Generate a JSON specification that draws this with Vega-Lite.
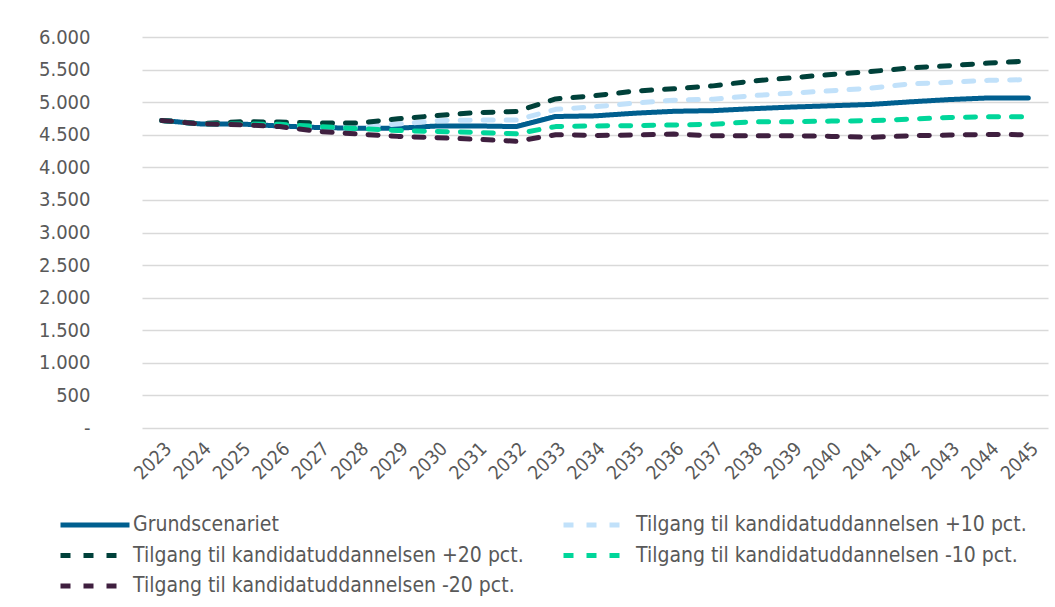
{
  "$schema": "https://vega.github.io/schema/vega-lite/v6.json",
  "width": 906,
  "height": 391,
  "autosize": {"type": "none"},
  "padding": {"left": 142, "top": 37, "right": 7, "bottom": 179},
  "background": "white",
  "config": {
    "view": {"stroke": null},
    "font": "DejaVu Sans Condensed",
    "axis": {"labelFont": "DejaVu Sans Condensed", "labelColor": "#595959"}
  },
  "data": {"values": [
    {"year":"2023","series":"Grundscenariet","value":4720},
    {"year":"2024","series":"Grundscenariet","value":4665},
    {"year":"2025","series":"Grundscenariet","value":4665},
    {"year":"2026","series":"Grundscenariet","value":4635},
    {"year":"2027","series":"Grundscenariet","value":4610},
    {"year":"2028","series":"Grundscenariet","value":4600},
    {"year":"2029","series":"Grundscenariet","value":4600},
    {"year":"2030","series":"Grundscenariet","value":4635},
    {"year":"2031","series":"Grundscenariet","value":4635},
    {"year":"2032","series":"Grundscenariet","value":4625},
    {"year":"2033","series":"Grundscenariet","value":4780},
    {"year":"2034","series":"Grundscenariet","value":4790},
    {"year":"2035","series":"Grundscenariet","value":4830},
    {"year":"2036","series":"Grundscenariet","value":4860},
    {"year":"2037","series":"Grundscenariet","value":4870},
    {"year":"2038","series":"Grundscenariet","value":4900},
    {"year":"2039","series":"Grundscenariet","value":4925},
    {"year":"2040","series":"Grundscenariet","value":4945},
    {"year":"2041","series":"Grundscenariet","value":4965},
    {"year":"2042","series":"Grundscenariet","value":5005},
    {"year":"2043","series":"Grundscenariet","value":5040},
    {"year":"2044","series":"Grundscenariet","value":5065},
    {"year":"2045","series":"Grundscenariet","value":5065},

    {"year":"2023","series":"Tilgang til kandidatuddannelsen +10 pct.","value":4720},
    {"year":"2024","series":"Tilgang til kandidatuddannelsen +10 pct.","value":4665},
    {"year":"2025","series":"Tilgang til kandidatuddannelsen +10 pct.","value":4670},
    {"year":"2026","series":"Tilgang til kandidatuddannelsen +10 pct.","value":4640},
    {"year":"2027","series":"Tilgang til kandidatuddannelsen +10 pct.","value":4615},
    {"year":"2028","series":"Tilgang til kandidatuddannelsen +10 pct.","value":4615},
    {"year":"2029","series":"Tilgang til kandidatuddannelsen +10 pct.","value":4665},
    {"year":"2030","series":"Tilgang til kandidatuddannelsen +10 pct.","value":4715},
    {"year":"2031","series":"Tilgang til kandidatuddannelsen +10 pct.","value":4725},
    {"year":"2032","series":"Tilgang til kandidatuddannelsen +10 pct.","value":4725},
    {"year":"2033","series":"Tilgang til kandidatuddannelsen +10 pct.","value":4890},
    {"year":"2034","series":"Tilgang til kandidatuddannelsen +10 pct.","value":4930},
    {"year":"2035","series":"Tilgang til kandidatuddannelsen +10 pct.","value":4985},
    {"year":"2036","series":"Tilgang til kandidatuddannelsen +10 pct.","value":5030},
    {"year":"2037","series":"Tilgang til kandidatuddannelsen +10 pct.","value":5045},
    {"year":"2038","series":"Tilgang til kandidatuddannelsen +10 pct.","value":5100},
    {"year":"2039","series":"Tilgang til kandidatuddannelsen +10 pct.","value":5140},
    {"year":"2040","series":"Tilgang til kandidatuddannelsen +10 pct.","value":5175},
    {"year":"2041","series":"Tilgang til kandidatuddannelsen +10 pct.","value":5215},
    {"year":"2042","series":"Tilgang til kandidatuddannelsen +10 pct.","value":5280},
    {"year":"2043","series":"Tilgang til kandidatuddannelsen +10 pct.","value":5305},
    {"year":"2044","series":"Tilgang til kandidatuddannelsen +10 pct.","value":5335},
    {"year":"2045","series":"Tilgang til kandidatuddannelsen +10 pct.","value":5345},

    {"year":"2023","series":"Tilgang til kandidatuddannelsen +20 pct.","value":4720},
    {"year":"2024","series":"Tilgang til kandidatuddannelsen +20 pct.","value":4670},
    {"year":"2025","series":"Tilgang til kandidatuddannelsen +20 pct.","value":4700},
    {"year":"2026","series":"Tilgang til kandidatuddannelsen +20 pct.","value":4695},
    {"year":"2027","series":"Tilgang til kandidatuddannelsen +20 pct.","value":4680},
    {"year":"2028","series":"Tilgang til kandidatuddannelsen +20 pct.","value":4680},
    {"year":"2029","series":"Tilgang til kandidatuddannelsen +20 pct.","value":4745},
    {"year":"2030","series":"Tilgang til kandidatuddannelsen +20 pct.","value":4795},
    {"year":"2031","series":"Tilgang til kandidatuddannelsen +20 pct.","value":4840},
    {"year":"2032","series":"Tilgang til kandidatuddannelsen +20 pct.","value":4855},
    {"year":"2033","series":"Tilgang til kandidatuddannelsen +20 pct.","value":5050},
    {"year":"2034","series":"Tilgang til kandidatuddannelsen +20 pct.","value":5100},
    {"year":"2035","series":"Tilgang til kandidatuddannelsen +20 pct.","value":5170},
    {"year":"2036","series":"Tilgang til kandidatuddannelsen +20 pct.","value":5205},
    {"year":"2037","series":"Tilgang til kandidatuddannelsen +20 pct.","value":5250},
    {"year":"2038","series":"Tilgang til kandidatuddannelsen +20 pct.","value":5325},
    {"year":"2039","series":"Tilgang til kandidatuddannelsen +20 pct.","value":5375},
    {"year":"2040","series":"Tilgang til kandidatuddannelsen +20 pct.","value":5425},
    {"year":"2041","series":"Tilgang til kandidatuddannelsen +20 pct.","value":5470},
    {"year":"2042","series":"Tilgang til kandidatuddannelsen +20 pct.","value":5525},
    {"year":"2043","series":"Tilgang til kandidatuddannelsen +20 pct.","value":5560},
    {"year":"2044","series":"Tilgang til kandidatuddannelsen +20 pct.","value":5600},
    {"year":"2045","series":"Tilgang til kandidatuddannelsen +20 pct.","value":5630},

    {"year":"2023","series":"Tilgang til kandidatuddannelsen -10 pct.","value":4720},
    {"year":"2024","series":"Tilgang til kandidatuddannelsen -10 pct.","value":4665},
    {"year":"2025","series":"Tilgang til kandidatuddannelsen -10 pct.","value":4665},
    {"year":"2026","series":"Tilgang til kandidatuddannelsen -10 pct.","value":4660},
    {"year":"2027","series":"Tilgang til kandidatuddannelsen -10 pct.","value":4625},
    {"year":"2028","series":"Tilgang til kandidatuddannelsen -10 pct.","value":4595},
    {"year":"2029","series":"Tilgang til kandidatuddannelsen -10 pct.","value":4565},
    {"year":"2030","series":"Tilgang til kandidatuddannelsen -10 pct.","value":4550},
    {"year":"2031","series":"Tilgang til kandidatuddannelsen -10 pct.","value":4535},
    {"year":"2032","series":"Tilgang til kandidatuddannelsen -10 pct.","value":4515},
    {"year":"2033","series":"Tilgang til kandidatuddannelsen -10 pct.","value":4625},
    {"year":"2034","series":"Tilgang til kandidatuddannelsen -10 pct.","value":4635},
    {"year":"2035","series":"Tilgang til kandidatuddannelsen -10 pct.","value":4640},
    {"year":"2036","series":"Tilgang til kandidatuddannelsen -10 pct.","value":4650},
    {"year":"2037","series":"Tilgang til kandidatuddannelsen -10 pct.","value":4660},
    {"year":"2038","series":"Tilgang til kandidatuddannelsen -10 pct.","value":4700},
    {"year":"2039","series":"Tilgang til kandidatuddannelsen -10 pct.","value":4700},
    {"year":"2040","series":"Tilgang til kandidatuddannelsen -10 pct.","value":4710},
    {"year":"2041","series":"Tilgang til kandidatuddannelsen -10 pct.","value":4715},
    {"year":"2042","series":"Tilgang til kandidatuddannelsen -10 pct.","value":4740},
    {"year":"2043","series":"Tilgang til kandidatuddannelsen -10 pct.","value":4765},
    {"year":"2044","series":"Tilgang til kandidatuddannelsen -10 pct.","value":4775},
    {"year":"2045","series":"Tilgang til kandidatuddannelsen -10 pct.","value":4775},

    {"year":"2023","series":"Tilgang til kandidatuddannelsen -20 pct.","value":4720},
    {"year":"2024","series":"Tilgang til kandidatuddannelsen -20 pct.","value":4665},
    {"year":"2025","series":"Tilgang til kandidatuddannelsen -20 pct.","value":4655},
    {"year":"2026","series":"Tilgang til kandidatuddannelsen -20 pct.","value":4625},
    {"year":"2027","series":"Tilgang til kandidatuddannelsen -20 pct.","value":4550},
    {"year":"2028","series":"Tilgang til kandidatuddannelsen -20 pct.","value":4510},
    {"year":"2029","series":"Tilgang til kandidatuddannelsen -20 pct.","value":4475},
    {"year":"2030","series":"Tilgang til kandidatuddannelsen -20 pct.","value":4455},
    {"year":"2031","series":"Tilgang til kandidatuddannelsen -20 pct.","value":4430},
    {"year":"2032","series":"Tilgang til kandidatuddannelsen -20 pct.","value":4400},
    {"year":"2033","series":"Tilgang til kandidatuddannelsen -20 pct.","value":4500},
    {"year":"2034","series":"Tilgang til kandidatuddannelsen -20 pct.","value":4490},
    {"year":"2035","series":"Tilgang til kandidatuddannelsen -20 pct.","value":4495},
    {"year":"2036","series":"Tilgang til kandidatuddannelsen -20 pct.","value":4510},
    {"year":"2037","series":"Tilgang til kandidatuddannelsen -20 pct.","value":4485},
    {"year":"2038","series":"Tilgang til kandidatuddannelsen -20 pct.","value":4485},
    {"year":"2039","series":"Tilgang til kandidatuddannelsen -20 pct.","value":4485},
    {"year":"2040","series":"Tilgang til kandidatuddannelsen -20 pct.","value":4475},
    {"year":"2041","series":"Tilgang til kandidatuddannelsen -20 pct.","value":4460},
    {"year":"2042","series":"Tilgang til kandidatuddannelsen -20 pct.","value":4485},
    {"year":"2043","series":"Tilgang til kandidatuddannelsen -20 pct.","value":4495},
    {"year":"2044","series":"Tilgang til kandidatuddannelsen -20 pct.","value":4505},
    {"year":"2045","series":"Tilgang til kandidatuddannelsen -20 pct.","value":4500}
  ]},
  "mark": {"type": "line", "strokeWidth": 5, "strokeCap": "round", "strokeJoin": "round"},
  "encoding": {
    "x": {
      "field": "year", "type": "ordinal",
      "scale": {"paddingInner": 1, "paddingOuter": 0.5},
      "axis": {
        "title": null, "labelAngle": -45, "labelFontSize": 19, "labelPadding": 11,
        "ticks": false, "domain": false, "grid": false
      }
    },
    "y": {
      "field": "value", "type": "quantitative",
      "scale": {"domain": [0, 6000], "nice": false, "zero": true},
      "axis": {
        "title": null, "values": [0,500,1000,1500,2000,2500,3000,3500,4000,4500,5000,5500,6000],
        "labelExpr": "datum.value == 0 ? '-' : replace(format(datum.value, ','), ',', '.')",
        "labelFontSize": 20, "labelPadding": 52, "ticks": false, "domain": false,
        "grid": true, "gridColor": "#d9d9d9", "gridWidth": 1.5
      }
    },
    "color": {
      "field": "series", "type": "nominal",
      "scale": {
        "domain": ["Grundscenariet", "Tilgang til kandidatuddannelsen +10 pct.", "Tilgang til kandidatuddannelsen +20 pct.", "Tilgang til kandidatuddannelsen -10 pct.", "Tilgang til kandidatuddannelsen -20 pct."],
        "range": ["#005f8f", "#c1e1fa", "#00413a", "#00d69a", "#3f1f3f"]
      },
      "legend": {
        "title": null, "orient": "none", "legendX": -61, "legendY": 474,
        "direction": "horizontal",
        "columns": 2, "columnPadding": 29, "rowPadding": 6.5, "padding": 0,
        "symbolType": "M-3,0H3", "symbolSize": 529, "symbolStrokeWidth": 5,
        "labelFontSize": 21, "labelColor": "#595959", "labelFont": "DejaVu Sans Condensed",
        "labelOffset": 24, "labelLimit": 600
      }
    },
    "strokeDash": {
      "field": "series", "type": "nominal",
      "scale": {
        "domain": ["Grundscenariet", "Tilgang til kandidatuddannelsen +10 pct.", "Tilgang til kandidatuddannelsen +20 pct.", "Tilgang til kandidatuddannelsen -10 pct.", "Tilgang til kandidatuddannelsen -20 pct."],
        "range": [[1, 0], [10, 13], [10, 13], [10, 13], [10, 13]]
      },
      "legend": null
    }
  }
}
